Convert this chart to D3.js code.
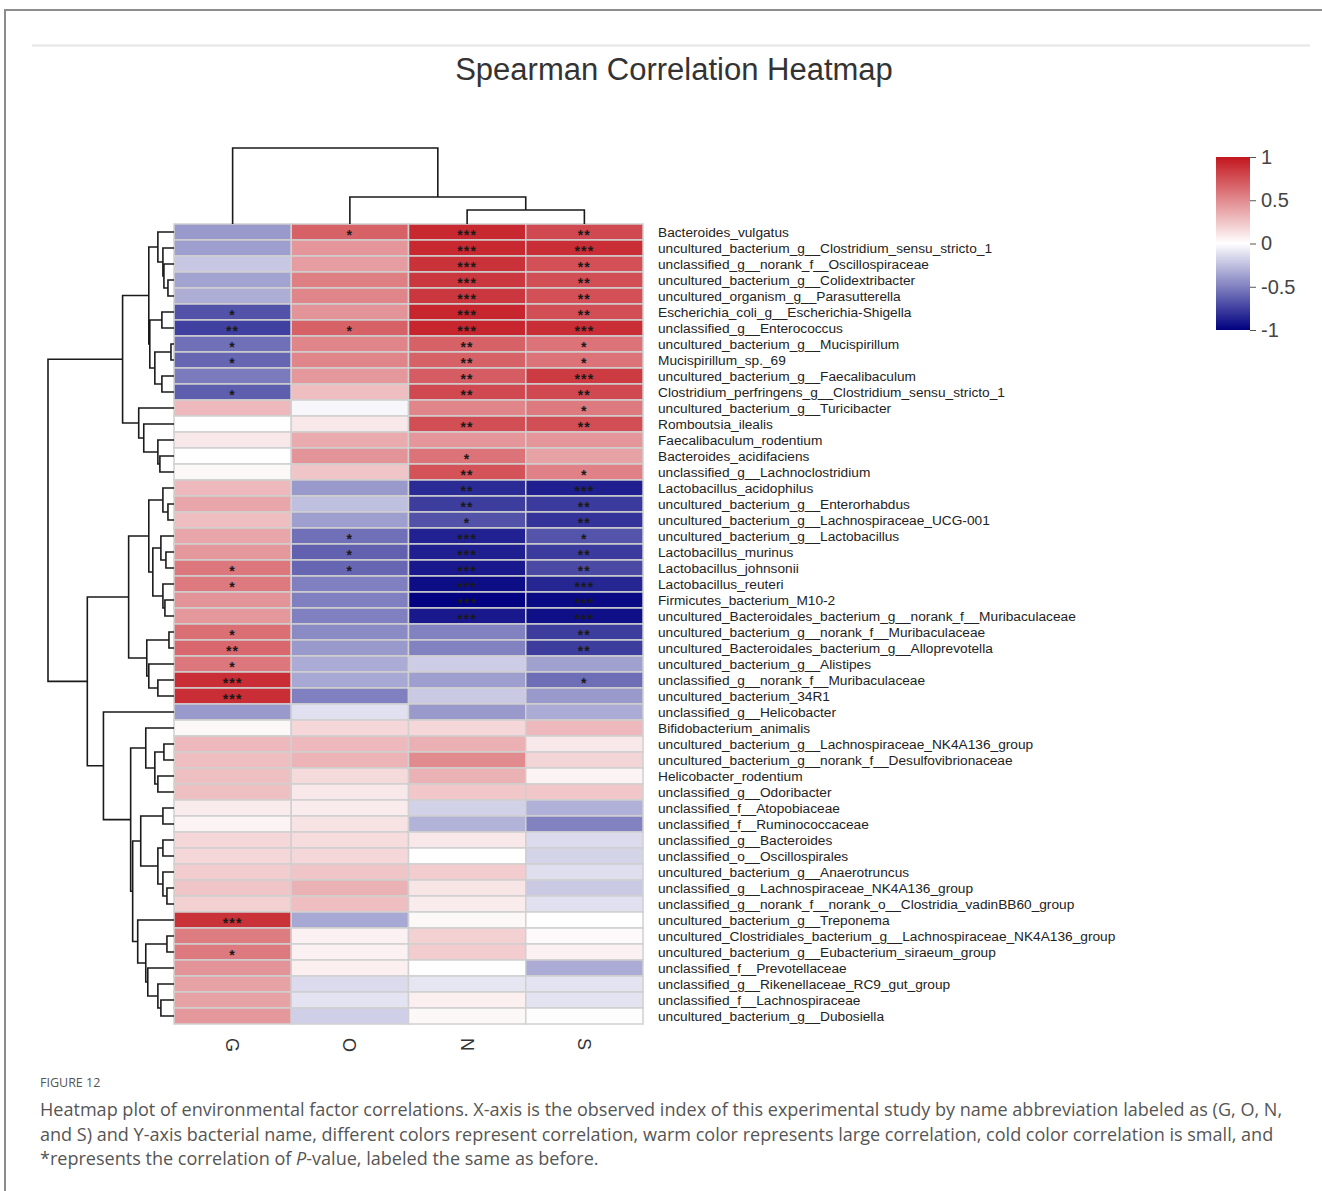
<!DOCTYPE html>
<html><head><meta charset="utf-8">
<script src="https://cdn.jsdelivr.net/npm/d3@7"></script>
<style>body{margin:0;background:#fff;} svg{display:block;}</style>
</head><body>
<svg id="c" width="1322" height="1191"></svg>
<script>
// ---------------- DATA ----------------
const rowNames = [
"Bacteroides_vulgatus","uncultured_bacterium_g__Clostridium_sensu_stricto_1","unclassified_g__norank_f__Oscillospiraceae",
"uncultured_bacterium_g__Colidextribacter","uncultured_organism_g__Parasutterella","Escherichia_coli_g__Escherichia-Shigella",
"unclassified_g__Enterococcus","uncultured_bacterium_g__Mucispirillum","Mucispirillum_sp._69","uncultured_bacterium_g__Faecalibaculum",
"Clostridium_perfringens_g__Clostridium_sensu_stricto_1","uncultured_bacterium_g__Turicibacter","Romboutsia_ilealis",
"Faecalibaculum_rodentium","Bacteroides_acidifaciens","unclassified_g__Lachnoclostridium","Lactobacillus_acidophilus",
"uncultured_bacterium_g__Enterorhabdus","uncultured_bacterium_g__Lachnospiraceae_UCG-001","uncultured_bacterium_g__Lactobacillus",
"Lactobacillus_murinus","Lactobacillus_johnsonii","Lactobacillus_reuteri","Firmicutes_bacterium_M10-2",
"uncultured_Bacteroidales_bacterium_g__norank_f__Muribaculaceae","uncultured_bacterium_g__norank_f__Muribaculaceae",
"uncultured_Bacteroidales_bacterium_g__Alloprevotella","uncultured_bacterium_g__Alistipes","unclassified_g__norank_f__Muribaculaceae",
"uncultured_bacterium_34R1","unclassified_g__Helicobacter","Bifidobacterium_animalis","uncultured_bacterium_g__Lachnospiraceae_NK4A136_group",
"uncultured_bacterium_g__norank_f__Desulfovibrionaceae","Helicobacter_rodentium","unclassified_g__Odoribacter","unclassified_f__Atopobiaceae",
"unclassified_f__Ruminococcaceae","unclassified_g__Bacteroides","unclassified_o__Oscillospirales","uncultured_bacterium_g__Anaerotruncus",
"unclassified_g__Lachnospiraceae_NK4A136_group","unclassified_g__norank_f__norank_o__Clostridia_vadinBB60_group",
"uncultured_bacterium_g__Treponema","uncultured_Clostridiales_bacterium_g__Lachnospiraceae_NK4A136_group",
"uncultured_bacterium_g__Eubacterium_siraeum_group","unclassified_f__Prevotellaceae","unclassified_g__Rikenellaceae_RC9_gut_group",
"unclassified_f__Lachnospiraceae","uncultured_bacterium_g__Dubosiella"
];
const colNames = ["G","O","N","S"];

const valG = [-0.40,-0.38,-0.22,-0.36,-0.32,-0.68,-0.75,-0.56,-0.60,-0.52,
 -0.63,0.30,0.00,0.10,0.00,0.03,0.30,0.38,0.28,0.38,
 0.44,0.58,0.57,0.46,0.44,0.62,0.65,0.58,0.90,0.90,
 -0.40,0.03,0.30,0.28,0.27,0.27,0.08,0.05,0.17,0.17,
 0.22,0.25,0.20,0.88,0.56,0.57,0.46,0.40,0.40,0.44];
const valO = [0.68,0.45,0.42,0.55,0.52,0.46,0.68,0.52,0.52,0.44,
 0.28,-0.03,0.10,0.36,0.46,0.25,-0.40,-0.25,-0.38,-0.56,
 -0.62,-0.60,-0.50,-0.50,-0.50,-0.46,-0.40,-0.33,-0.34,-0.50,
 -0.12,0.17,0.30,0.32,0.16,0.10,0.08,0.12,0.15,0.17,
 0.25,0.33,0.28,-0.34,0.06,0.06,0.07,-0.14,-0.11,-0.19];
const valN = [0.92,0.92,0.88,0.86,0.86,0.93,0.93,0.68,0.68,0.70,
 0.78,0.52,0.76,0.45,0.60,0.74,-0.83,-0.76,-0.68,-0.87,
 -0.88,-0.90,-0.95,-0.99,-0.90,-0.49,-0.49,-0.20,-0.38,-0.21,
 -0.40,0.17,0.34,0.50,0.33,0.24,-0.18,-0.30,0.10,0.00,
 0.22,0.11,0.08,0.03,0.20,0.22,0.00,-0.10,0.07,0.03];
const valS = [0.78,0.90,0.75,0.76,0.75,0.76,0.90,0.60,0.60,0.84,
 0.78,0.57,0.76,0.45,0.40,0.54,-0.88,-0.77,-0.80,-0.67,
 -0.77,-0.71,-0.85,-0.96,-0.94,-0.76,-0.76,-0.37,-0.57,-0.40,
 -0.33,0.30,0.10,0.18,0.05,0.24,-0.31,-0.49,-0.14,-0.17,
 -0.13,-0.21,-0.12,0.00,0.02,0.06,-0.33,-0.11,-0.11,0.01];

const sigG = ["","","","","","*","**","*","*","",
 "*","","","","","","","","","",
 "","*","*","","","*","**","*","***","***",
 "","","","","","","","","","",
 "","","","***","","*","","","",""];
const sigO = ["*","","","","","","*","","","",
 "","","","","","","","","","*",
 "*","*","","","","","","","","",
 "","","","","","","","","","",
 "","","","","","","","","",""];
const sigN = ["***","***","***","***","***","***","***","**","**","**",
 "**","","**","","*","**","**","**","*","***",
 "***","***","***","***","***","","","","","",
 "","","","","","","","","","",
 "","","","","","","","","",""];
const sigS = ["**","***","**","**","**","**","***","*","*","***",
 "**","*","**","","","*","***","**","**","*",
 "**","**","***","***","***","**","**","","*","",
 "","","","","","","","","","",
 "","","","","","","","","",""];

// dendrograms: [height, left, right]; leaves are row / column indices
const rowTree = [125,
  [51,
    [25, [16, 0, [11, 1, [10, 2, [6, 3, 4]]]], [24, [12, 5, 6], [19, [3, 7, 8], [12, 9, 10]]]],
    [35, 11, [30, 12, [16, 13, [14, 14, 15]]]]],
  [86,
    [45,
      [25, [11, 16, [6, 17, 18]], [21, [13, 19, [8, 20, 21]], [11, 22, [9, 23, 24]]]],
      [27, [5, 25, 26], [25, 27, [16, 28, 29]]]],
    [70, 30,
      [43,
        [28, 31, [19, [10, 32, 33], [16, 34, 35]]],
        [41,
          [33, [11, 36, 37], [16, [11, 38, 39], [11, 40, [7, 41, 42]]]],
          [36, 43, [28, [7, 44, 45], [26, 46, [16, 47, [13, 48, 49]]]]]]]]]];
const colTree = [76, 0, [27, 1, [14, 2, 3]]];

const legendTicks = [1, 0.5, 0, -0.5, -1];
const titleText = "Spearman Correlation Heatmap";
const figLabel = "FIGURE 12";
const captionLines = [
 "Heatmap plot of environmental factor correlations. X-axis is the observed index of this experimental study by name abbreviation labeled as (G, O, N,",
 "and S) and Y-axis bacterial name, different colors represent correlation, warm color represents large correlation, cold color correlation is small, and",
 "*represents the correlation of |P|-value, labeled the same as before."
];

// ---------------- DRAW ----------------
const FONT = "'Liberation Sans', Arial, sans-serif";
const svg = d3.select("#c");
const vals = [valG, valO, valN, valS];
const sigs = [sigG, sigO, sigN, sigS];

// frame & rule
svg.append("rect").attr("x",5).attr("y",10).attr("width",1400).attr("height",1300)
  .attr("fill","none").attr("stroke","#8c8c8c").attr("stroke-width",2);
svg.append("line").attr("x1",32).attr("x2",1310).attr("y1",45.5).attr("y2",45.5)
  .attr("stroke","#e6e6e6").attr("stroke-width",2);

// title
svg.append("text").attr("x",674).attr("y",80).attr("text-anchor","middle")
  .style("font-family",FONT).style("font-size","31px")
  .attr("fill","#333").text(titleText);

const x = d3.scaleBand().domain(colNames).range([174, 643]);
const y = d3.scaleBand().domain(rowNames).range([224, 1024]);
const color = d3.scaleLinear().domain([-1, 0, 1]).range(["#000080", "#ffffff", "#C3161E"]);

const cells = rowNames.flatMap((r, i) => colNames.map((c, j) => ({r, c, v: vals[j][i], s: sigs[j][i]})));

svg.append("g").selectAll("rect").data(cells).join("rect")
  .attr("x", d => x(d.c)).attr("y", d => y(d.r))
  .attr("width", x.bandwidth()).attr("height", y.bandwidth())
  .attr("fill", d => color(d.v))
  .attr("stroke", "#d0d0d0").attr("stroke-width", 1.5);

// significance stars (asterisk glyph centre sits ~0.58em above baseline)
const starSize = 14;
svg.append("g").selectAll("text").data(cells.filter(d => d.s)).join("text")
  .attr("x", d => x(d.c) + x.bandwidth() / 2)
  .attr("y", d => y(d.r) + y.bandwidth() / 2 + 0.58 * starSize)
  .attr("text-anchor", "middle")
  .style("font-family",FONT).style("font-size", starSize + "px").style("font-weight","bold")
  .style("letter-spacing","1.2px")
  .attr("fill", "#1a1a1a").text(d => d.s);

// row labels
svg.append("g").selectAll("text").data(rowNames).join("text")
  .attr("x", 658).attr("y", d => y(d) + y.bandwidth() / 2).attr("dy", "0.36em")
  .style("font-family",FONT).style("font-size","13.7px")
  .attr("fill", "#222").text(d => d);

// column labels (rotated)
svg.append("g").selectAll("text").data(colNames).join("text")
  .attr("transform", d => `translate(${x(d) + x.bandwidth() / 2},1038) rotate(90)`)
  .attr("dy", "0.36em")
  .style("font-family",FONT).style("font-size","18px")
  .attr("fill", "#333").text(d => d);

// dendrogram helpers
function toNode(t) {
  return typeof t === "number" ? {leaf: t, h: 0} : {h: t[0], children: [toNode(t[1]), toNode(t[2])]};
}
function place(n, leafPos) {
  if (n.children) { n.children.forEach(c => place(c, leafPos)); n.pos = d3.mean(n.children, c => c.pos); }
  else n.pos = leafPos(n.leaf);
  return n;
}
function internals(n, out = []) { if (n.children) { out.push(n); n.children.forEach(c => internals(c, out)); } return out; }

const rootR = place(toNode(rowTree), i => y(rowNames[i]) + y.bandwidth() / 2);
const hx = d3.scaleLinear().domain([0, rowTree[0]]).range([174, 48]);
svg.append("g").selectAll("path").data(internals(rootR)).join("path")
  .attr("d", n => { const [a, b] = n.children;
    return `M${hx(a.h)},${a.pos}H${hx(n.h)}V${b.pos}H${hx(b.h)}`; })
  .attr("fill", "none").attr("stroke", "#1a1a1a").attr("stroke-width", 1.6);

const rootC = place(toNode(colTree), i => x(colNames[i]) + x.bandwidth() / 2);
const hy = d3.scaleLinear().domain([0, colTree[0]]).range([224, 148]);
svg.append("g").selectAll("path").data(internals(rootC)).join("path")
  .attr("d", n => { const [a, b] = n.children;
    return `M${a.pos},${hy(a.h)}V${hy(n.h)}H${b.pos}V${hy(b.h)}`; })
  .attr("fill", "none").attr("stroke", "#1a1a1a").attr("stroke-width", 1.6);

// legend
const ly = d3.scaleLinear().domain([-1, 1]).range([330, 157]);
const grad = svg.append("defs").append("linearGradient").attr("id", "lg")
  .attr("x1", 0).attr("y1", 0).attr("x2", 0).attr("y2", 1);
d3.range(0, 1.0001, 0.05).forEach(t => grad.append("stop").attr("offset", t).attr("stop-color", color(1 - 2 * t)));
svg.append("rect").attr("x", 1216).attr("y", ly(1)).attr("width", 34).attr("height", ly(-1) - ly(1))
  .attr("fill", "url(#lg)");
const lax = svg.append("g").attr("transform", "translate(1250,0)")
  .call(d3.axisRight(ly).tickValues(legendTicks).tickSize(6).tickPadding(5).tickFormat(d => String(d)));
lax.select(".domain").remove();
lax.selectAll("line").attr("stroke", "#555");
lax.selectAll("text").style("font-family",FONT).style("font-size","20px").attr("fill","#444");

// caption
svg.append("text").attr("x", 40).attr("y", 1087)
  .style("font-family","'Open Sans', sans-serif").style("font-size","12.5px")
  .attr("fill", "#555").text(figLabel);
const capGroup = svg.append("g");
captionLines.forEach((line, i) => {
  const t = capGroup.append("text").attr("x", 40).attr("y", 1116 + i * 24.5)
    .style("font-family","'Open Sans', sans-serif").style("font-size","16px").attr("fill", "#555");
  line.split("|").forEach((part, k) => {
    t.append("tspan").style("font-style", k % 2 === 1 ? "italic" : "normal").text(part);
  });
});
// fit caption font so the first line spans the same width as in the figure
const w0 = capGroup.select("text").node().getComputedTextLength();
capGroup.selectAll("text").style("font-size", (16 * 1243 / w0).toFixed(2) + "px");
</script>
</body></html>
